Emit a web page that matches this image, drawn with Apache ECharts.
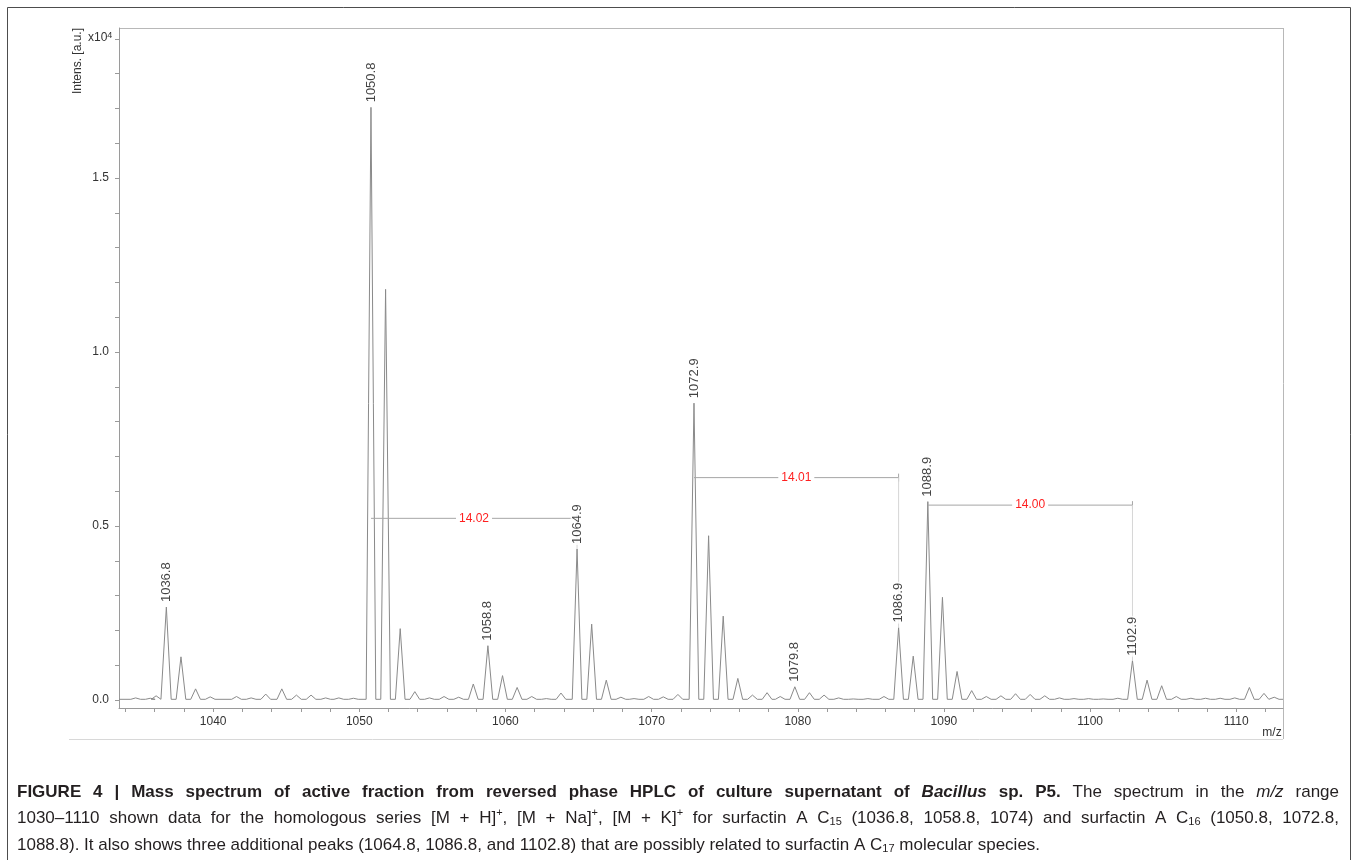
<!DOCTYPE html>
<html>
<head>
<meta charset="utf-8">
<script src="https://cdn.jsdelivr.net/npm/echarts@6/dist/echarts.min.js"></script>
<style>
html, body { margin: 0; padding: 0; background: #fff; }
#chart { width: 1357px; height: 860px; }
</style>
</head>
<body>
<div id="chart"></div>
<script>
// peaks (m/z, intensity in x10^4 a.u.)
const peakMz = [
    1034.7, 1035.7, 1036.1, 1036.8, 1037.8, 1038.8, 1039.8, 1041.6, 1042.6, 1043.6,
    1044.7, 1045.7, 1046.7, 1047.7, 1048.6, 1049.6, 1050.8, 1051.8, 1052.8, 1053.8,
    1054.8, 1055.8, 1056.8, 1057.8, 1058.8, 1059.8, 1060.8, 1061.8, 1062.8, 1063.8,
    1064.9, 1065.9, 1066.9, 1067.9, 1068.8, 1069.8, 1070.8, 1071.8, 1072.9, 1073.9,
    1074.9, 1075.9, 1076.9, 1077.9, 1078.8, 1079.8, 1080.8, 1081.8, 1082.8, 1083.8,
    1084.8, 1085.9, 1086.9, 1087.9, 1088.9, 1089.9, 1090.9, 1091.9, 1092.9, 1093.9,
    1094.9, 1095.9, 1096.9, 1097.9, 1098.9, 1099.9, 1100.9, 1101.9, 1102.9, 1103.9,
    1104.9, 1105.9, 1106.9, 1107.9, 1108.9, 1109.9, 1110.9, 1111.9, 1112.6
]
const peakInt = [
    0.006, 0.005, 0.012, 0.267, 0.124, 0.032, 0.009, 0.010, 0.006, 0.017,
    0.032, 0.014, 0.014, 0.006, 0.006, 0.005, 1.703, 1.180, 0.205, 0.024,
    0.006, 0.010, 0.008, 0.046, 0.156, 0.070, 0.036, 0.010, 0.004, 0.020,
    0.434, 0.218, 0.057, 0.008, 0.004, 0.010, 0.009, 0.016, 0.853, 0.472,
    0.241, 0.062, 0.014, 0.021, 0.010, 0.038, 0.021, 0.014, 0.006, 0.003,
    0.004, 0.010, 0.208, 0.126, 0.570, 0.295, 0.082, 0.027, 0.010, 0.012,
    0.018, 0.016, 0.012, 0.006, 0.004, 0.004, 0.003, 0.005, 0.113, 0.057,
    0.041, 0.010, 0.005, 0.005, 0.005, 0.006, 0.036, 0.019, 0.008
]
const baseLevel = 0.002

// labelled peaks
const labelMz = [1036.8, 1050.8, 1058.8, 1064.9, 1072.9, 1079.8, 1086.9, 1088.9, 1102.9]
const labelInt = [0.267, 1.703, 0.156, 0.434, 0.853, 0.038, 0.208, 0.570, 0.113]

// mass differences (brackets)
const gapFrom = [1050.8, 1072.9, 1088.9]
const gapTo = [1064.9, 1086.9, 1102.9]
const gapLevel = [0.522, 0.639, 0.560]
const gapToInt = [0.434, 0.208, 0.113]
const gapText = ['14.02', '14.01', '14.00']

// axes
const xMin = 1033.56
const xMax = 1113.2
const xTicks = [1034, 1036, 1038, 1040, 1042, 1044, 1046, 1048, 1050, 1052, 1054, 1056, 1058, 1060,
    1062, 1064, 1066, 1068, 1070, 1072, 1074, 1076, 1078, 1080, 1082, 1084, 1086, 1088, 1090,
    1092, 1094, 1096, 1098, 1100, 1102, 1104, 1106, 1108, 1110, 1112]
const xLabels = [1040, 1050, 1060, 1070, 1080, 1090, 1100, 1110]
const yMin = -0.023
const yMax = 1.931
const yTicks = [0, 0.1, 0.2, 0.3, 0.4, 0.5, 0.6, 0.7, 0.8, 0.9, 1.0, 1.1, 1.2, 1.3, 1.4, 1.5, 1.6, 1.7, 1.8, 1.9]
const yLabels = [0, 0.5, 1.0, 1.5]

// caption, one array of [style, text] pieces per printed line
const captionLines = [
    [['b', 'FIGURE 4 | Mass spectrum of active fraction from reversed phase HPLC of culture supernatant of '], ['bi', 'Bacillus'], ['b', ' sp. P5.'],
        ['n', ' The spectrum in the '], ['i', 'm/z'], ['n', ' range']],
    [['n', '1030–1110 shown data for the homologous series [M + H]'], ['sup', '+'], ['n', ', [M + Na]'], ['sup', '+'], ['n', ', [M + K]'], ['sup', '+'],
        ['n', ' for surfactin A C'], ['sub', '15'], ['n', ' (1036.8, 1058.8, 1074) and surfactin A C'], ['sub', '16'], ['n', ' (1050.8, 1072.8,']],
    [['n', '1088.8). It also shows three additional peaks (1064.8, 1086.8, and 1102.8) that are possibly related to surfactin A C'], ['sub', '17'],
        ['n', ' molecular species.']],
]
const captionJustify = [true, true, false]
const captionY = [792, 818, 845]

const font = 'Liberation Sans, Arial, sans-serif'
const halfWidth = 0.33

// spectrum profile: each peak drawn as a narrow line peak on the baseline
const spectrum = [[xMin, baseLevel]]
peakMz.forEach((m, i) => {
    spectrum.push([m - halfWidth, baseLevel], [m, peakInt[i]], [m + halfWidth, baseLevel])
})
spectrum.push([xMax, baseLevel])

// caption typesetting (justified lines like the printed figure)
const capSize = 17
const capStyles = {
    n: { font: `normal normal ${capSize}px ${font}`, dy: 0 },
    b: { font: `normal bold ${capSize}px ${font}`, dy: 0 },
    bi: { font: `italic bold ${capSize}px ${font}`, dy: 0 },
    i: { font: `italic normal ${capSize}px ${font}`, dy: 0 },
    sup: { font: `normal normal 11px ${font}`, dy: -5 },
    sub: { font: `normal normal 11px ${font}`, dy: 4 },
}
const measureCtx = document.createElement('canvas').getContext('2d')
function textWidth(t, f) {
    measureCtx.font = f
    return measureCtx.measureText(t).width
}
function layoutCaption(pieces, x0, x1, y, justify) {
    const words = []
    let cur = []
    pieces.forEach(([st, text]) => {
        text.split(' ').forEach((part, j) => {
            if (j > 0) {
                if (cur.length) words.push(cur)
                cur = []
            }
            if (part) cur.push({ st, text: part, w: textWidth(part, capStyles[st].font) })
        })
    })
    if (cur.length) words.push(cur)
    const widths = words.map((w) => w.reduce((s, f) => s + f.w, 0))
    const total = widths.reduce((s, w) => s + w, 0)
    const space = justify ? (x1 - x0 - total) / (words.length - 1) : textWidth(' ', capStyles.n.font)
    const out = []
    let x = x0
    words.forEach((word) => {
        word.forEach((f) => {
            out.push({
                type: 'text', x, y: y + capStyles[f.st].dy, silent: true,
                style: { text: f.text, font: capStyles[f.st].font, fill: '#231f20', align: 'left', verticalAlign: 'middle' },
            })
            x += f.w
        })
        x += space
    })
    return out
}
const captionGraphics = []
captionLines.forEach((line, i) => {
    captionGraphics.push(...layoutCaption(line, 17, 1339, captionY[i], captionJustify[i]))
})

const chart = echarts.init(document.getElementById('chart'))

const options = {
    backgroundColor: '#fff',
    animation: false,
    grid: { left: 119, top: 28, width: 1164, height: 680 },
    xAxis: {
        type: 'value',
        min: xMin,
        max: xMax,
        axisLine: { show: true, onZero: false, lineStyle: { color: '#9a9a9a', width: 1 } },
        axisTick: { show: true, customValues: xTicks, length: 4, lineStyle: { color: '#9a9a9a' } },
        axisLabel: {
            customValues: xLabels, margin: 8, color: '#333', fontSize: 12, fontFamily: font,
            formatter: (v) => String(v),
        },
        splitLine: { show: false },
    },
    yAxis: {
        type: 'value',
        min: yMin,
        max: yMax,
        axisLine: { show: true, onZero: false, lineStyle: { color: '#9a9a9a', width: 1 } },
        axisTick: { show: true, customValues: yTicks, length: 4, lineStyle: { color: '#9a9a9a' } },
        axisLabel: {
            customValues: yLabels, margin: 10, color: '#333', fontSize: 12, fontFamily: font,
            formatter: (v) => v.toFixed(1),
        },
        splitLine: { show: false },
    },
    series: [
        {
            type: 'line',
            data: spectrum,
            symbol: 'none',
            lineStyle: { color: '#8a8a8a', width: 1 },
            z: 2,
        },
        {
            type: 'custom',
            data: gapFrom.map((f, i) => [f, gapTo[i], gapLevel[i], gapToInt[i]]),
            clip: false,
            z: 3,
            renderItem(params, api) {
                const p1 = api.coord([api.value(0), api.value(2)])
                const p2 = api.coord([api.value(1), api.value(2)])
                const pd = api.coord([api.value(1), api.value(3)])
                return {
                    type: 'group',
                    children: [
                        { type: 'line', shape: { x1: p1[0], y1: p1[1], x2: p2[0], y2: p2[1] }, style: { stroke: '#a6a6a6', lineWidth: 1 } },
                        { type: 'line', shape: { x1: p2[0], y1: p2[1] - 4, x2: p2[0], y2: p2[1] + 4 }, style: { stroke: '#a6a6a6', lineWidth: 1 } },
                        { type: 'line', shape: { x1: p2[0], y1: p2[1], x2: p2[0], y2: pd[1] }, style: { stroke: '#d6d6d6', lineWidth: 1 } },
                        {
                            type: 'text', x: (p1[0] + p2[0]) / 2, y: p1[1],
                            style: {
                                text: gapText[params.dataIndex], fill: '#ff1f1f', font: '12px ' + font,
                                align: 'center', verticalAlign: 'middle', backgroundColor: '#fff', padding: [0, 3],
                            },
                        },
                    ],
                }
            },
        },
        {
            type: 'scatter',
            data: labelMz.map((m, i) => [m, labelInt[i]]),
            symbolSize: 0,
            silent: true,
            z: 5,
            label: {
                show: true,
                position: 'top',
                distance: 4,
                rotate: 90,
                align: 'left',
                verticalAlign: 'middle',
                color: '#111',
                fontSize: 13,
                fontFamily: font,
                backgroundColor: '#fff',
                padding: [0, 1],
                formatter: (p) => p.value[0].toFixed(1),
            },
        },
    ],
    graphic: [
        { type: 'rect', shape: { x: 7.5, y: 7.5, width: 1343, height: 900 }, style: { fill: 'none', stroke: '#4d4d4d', lineWidth: 1 }, silent: true },
        { type: 'line', shape: { x1: 119, y1: 28.5, x2: 1283, y2: 28.5 }, style: { stroke: '#b8b8b8' }, silent: true },
        { type: 'line', shape: { x1: 1283.5, y1: 28, x2: 1283.5, y2: 739 }, style: { stroke: '#b8b8b8' }, silent: true },
        { type: 'line', shape: { x1: 69, y1: 739.5, x2: 1283, y2: 739.5 }, style: { stroke: '#d8d8d8' }, silent: true },
        { type: 'text', x: 1272, y: 733, style: { text: 'm/z', font: '12px ' + font, fill: '#333', align: 'center', verticalAlign: 'middle' } },
        {
            type: 'text', x: 88, y: 38,
            style: {
                text: '{a|x10}{s|4}', verticalAlign: 'middle', align: 'left',
                rich: {
                    a: { fontFamily: font, fontSize: 12, fill: '#333', lineHeight: 14 },
                    s: { fontFamily: font, fontSize: 9, fill: '#333', lineHeight: 14, verticalAlign: 'top' },
                },
            },
        },
        {
            type: 'text', x: 78, y: 61, rotation: Math.PI / 2,
            style: { text: 'Intens. [a.u.]', font: '12px ' + font, fill: '#333', align: 'center', verticalAlign: 'middle' },
        },
        ...captionGraphics,
    ],
}

chart.setOption(options)
</script>
</body>
</html>
